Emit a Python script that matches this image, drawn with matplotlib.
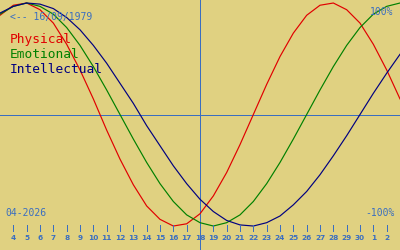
import matplotlib
matplotlib.use("Agg")
import matplotlib.pyplot as plt

# days shown: 3 April .. 3 May (May 1 = 31)
days = list(range(3, 34))
tick_days = list(range(4, 33))
tick_labels = [str(d) for d in range(4, 31)] + ["1", "2"]
today = 18

# biorhythm values in percent, read per day
physical = [89, 98, 100, 94, 82, 63, 40, 14, -14, -40, -63, -82, -94, -100, -98, -89,
            -73, -52, -27, 0, 27, 52, 73, 89, 98, 100, 94, 82, 63, 40, 14]
emotional = [90, 97, 100, 97, 90, 78, 62, 43, 22, 0, -22, -43, -62, -78, -90, -97,
             -100, -97, -90, -78, -62, -43, -22, 0, 22, 43, 62, 78, 90, 97, 100]
intellectual = [91, 97, 100, 99, 95, 87, 76, 62, 46, 28, 10, -10, -28, -46, -62, -76,
                -87, -95, -99, -100, -97, -91, -81, -69, -54, -37, -19, 0, 19, 37, 54]

series = [("Physical", physical, "#e00000"),
          ("Emotional", emotional, "#008000"),
          ("Intellectual", intellectual, "#000080")]

bg = "#e0d181"
blue = "#3a6ec0"

fig = plt.figure(figsize=(4, 2.5), dpi=100, facecolor=bg)
ax = fig.add_axes([0, 0, 1, 1], facecolor=bg)
ax.set_xlim(3, 33)
ax.set_ylim(-121.5, 102.7)
ax.axis("off")

ax.axhline(0, color=blue, lw=0.72, antialiased=False)
ax.axvline(today, color=blue, lw=0.72, antialiased=False)

for name, vals, col in series:
    ax.plot(days, vals, color=col, lw=0.85)

ax.vlines(tick_days, 0.076, 0.1, transform=ax.get_xaxis_transform(),
          color=blue, lw=0.72, antialiased=False)
for d, lab in zip(tick_days, tick_labels):
    ax.text(d, 0.048, lab, transform=ax.get_xaxis_transform(), ha="center", va="center",
            color=blue, fontsize=5.3, fontweight="bold", family="DejaVu Sans")

mono = "DejaVu Sans Mono"
ax.text(10 / 400, 0.92, "<-- 16/09/1979", transform=ax.transAxes, color=blue,
        fontsize=7, family=mono, va="baseline")
ax.text(393 / 400, 0.94, "100%", transform=ax.transAxes, color=blue,
        fontsize=7, family=mono, va="baseline", ha="right")
ax.text(395 / 400, 0.136, "-100%", transform=ax.transAxes, color=blue,
        fontsize=7, family=mono, va="baseline", ha="right")
ax.text(5 / 400, 0.136, "04-2026", transform=ax.transAxes, color=blue,
        fontsize=7, family=mono, va="baseline")

for i, (name, vals, col) in enumerate(series):
    ax.text(10 / 400, 0.828 - i * 0.06, name, transform=ax.transAxes, color=col,
            fontsize=9.3, family=mono, va="baseline")

fig.savefig("out.png", dpi=100, facecolor=bg)
